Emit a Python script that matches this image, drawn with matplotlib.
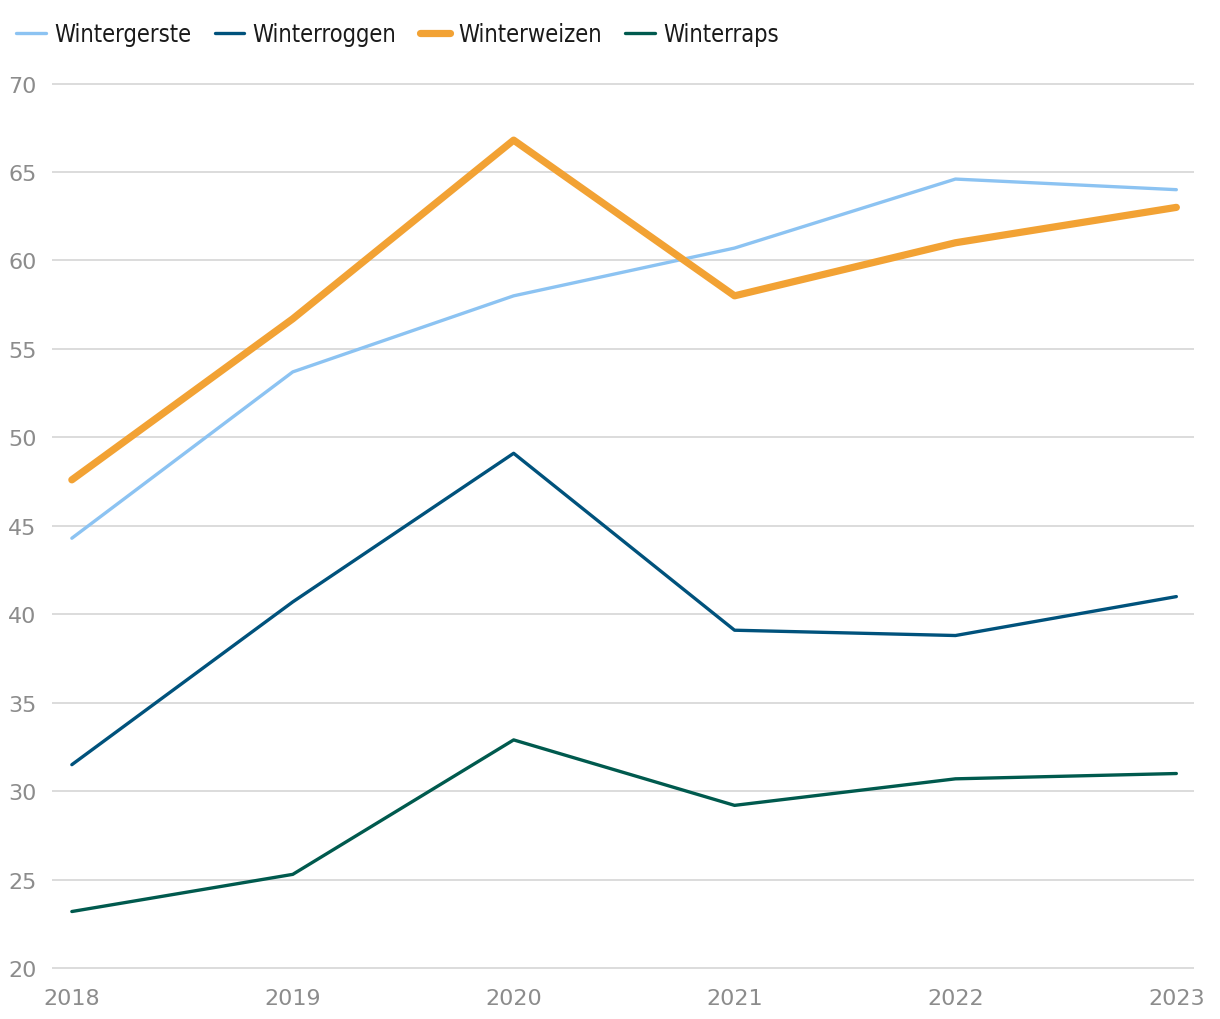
import numpy as np
import matplotlib.pyplot as plt

years = [2018, 2019, 2020, 2021, 2022, 2023]
wintergerste = [44.3, 53.7, 58.0, 60.7, 64.6, 64.0]
winterroggen = [31.5, 40.7, 49.1, 39.1, 38.8, 41.0]
winterweizen = [47.6, 56.7, 66.8, 58.0, 61.0, 63.0]
winterraps = [23.2, 25.3, 32.9, 29.2, 30.7, 31.0]
yticks = [20, 25, 30, 35, 40, 45, 50, 55, 60, 65, 70]

fig = plt.figure(figsize=(12.2, 10.2), dpi=100, facecolor='w')
ax = fig.add_axes([0.0426, 0.0490, 0.9361, 0.8690])

ax.plot(years, wintergerste, color='#8CC3F2', lw=2.4, label='Wintergerste', solid_capstyle='round')
ax.plot(years, winterroggen, color='#00527C', lw=2.4, label='Winterroggen', solid_capstyle='round')
ax.plot(years, winterweizen, color='#F2A234', lw=5.2, label='Winterweizen', solid_capstyle='round')
ax.plot(years, winterraps, color='#005A4E', lw=2.4, label='Winterraps', solid_capstyle='round')

ax.set_xlim(2017.91, 2023.08)
ax.set_ylim(19.95, 70.05)
ax.set_yticks(yticks)
ax.set_xticks(years)
ax.grid(axis='y', color='#D9D9D9', lw=1.3)
ax.set_axisbelow(True)
for s in ax.spines.values():
    s.set_visible(False)
ax.tick_params(axis='both', length=0, labelsize=16, labelcolor='#8C8C8C')
ax.tick_params(axis='y', pad=11)
ax.tick_params(axis='x', pad=14)

leg = fig.legend(loc='upper left', bbox_to_anchor=(-0.004, 0.998), ncol=4, frameon=False,
                 handlelength=1.25, handletextpad=0.35, columnspacing=1.0,
                 prop={'family': 'DejaVu Sans', 'stretch': 'condensed', 'size': 17})
for t in leg.get_texts():
    t.set_color('#1A1A1A')

fig.savefig('out.png', dpi=100)
